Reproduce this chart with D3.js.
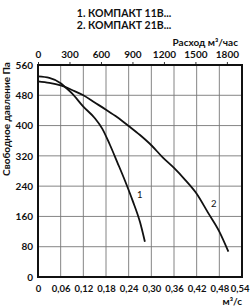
<!DOCTYPE html>
<html lang="ru">
<head>
<meta charset="utf-8">
<title>КОМПАКТ</title>
<script src="https://d3js.org/d3.v7.min.js"></script>
<style>
body { margin: 0; background: #fff; }
text { font-family: Lato, "DejaVu Sans", sans-serif; fill: #111; }
</style>
</head>
<body>
<div id="chart"></div>
<script>
// titles
var titles = ["1. КОМПАКТ 11В...", "2. КОМПАКТ 21В..."];

// ticks
var xTicks = [0, 0.06, 0.12, 0.18, 0.24, 0.30, 0.36, 0.42, 0.48, 0.54];
var topTicks = [0, 300, 600, 900, 1200, 1500, 1800];
var yTicks = [0, 80, 160, 240, 320, 400, 480, 560];

// curve 1 : КОМПАКТ 11В (flow m3/s, pressure Pa)
var flow1 = [0, 0.03, 0.06, 0.0715, 0.09, 0.12, 0.15, 0.17, 0.19, 0.21, 0.23, 0.25, 0.27, 0.283];
var pres1 = [530, 526, 512, 502, 485, 450, 420, 392, 350, 303, 255, 203, 145, 93];

// curve 2 : КОМПАКТ 21В
var flow2 = [0, 0.03, 0.06, 0.0715, 0.09, 0.12, 0.15, 0.18, 0.21, 0.24, 0.27, 0.30, 0.33, 0.36, 0.39, 0.42, 0.45, 0.48, 0.504];
var pres2 = [517, 513, 506, 502, 494, 480, 461, 442, 422, 399, 375, 348, 316, 288, 256, 220, 170, 120, 67];

var W = 250, H = 307;
var svg = d3.select("#chart").append("svg")
  .attr("width", W)
  .attr("height", H);

var x = d3.scaleLinear().domain([0, 0.54]).range([38, 242]);
var xTop = d3.scaleLinear().domain([0, 0.54 * 3600]).range([38, 242]);
var y = d3.scaleLinear().domain([0, 560]).range([277, 65]);

// titles
svg.selectAll(".title")
  .data(titles)
  .enter().append("text")
    .attr("x", 124)
    .attr("y", function(d, i) { return 17 + i * 11.5; })
    .attr("text-anchor", "middle")
    .style("font-size", "10.5px")
    .style("font-weight", "bold")
    .text(function(d) { return d; });

// grid
svg.append("g")
  .selectAll("line")
  .data(xTicks.slice(1, -1))
  .enter().append("line")
    .attr("x1", function(d) { return x(d); })
    .attr("x2", function(d) { return x(d); })
    .attr("y1", y(0))
    .attr("y2", y(560))
    .attr("stroke", "#777")
    .attr("stroke-width", 0.9);

svg.append("g")
  .selectAll("line")
  .data(yTicks.slice(1, -1))
  .enter().append("line")
    .attr("x1", x(0))
    .attr("x2", x(0.54))
    .attr("y1", function(d) { return y(d); })
    .attr("y2", function(d) { return y(d); })
    .attr("stroke", "#777")
    .attr("stroke-width", 0.9);

// bottom axis
var xAxis = svg.append("g")
  .attr("transform", "translate(0," + y(0) + ")")
  .call(d3.axisBottom(x).tickValues(xTicks).tickSize(0).tickPadding(8)
    .tickFormat(function(d) { return d === 0 ? "0" : d3.format(".2f")(d).replace(".", ","); }));
xAxis.select(".domain").remove();
xAxis.selectAll("text").style("font-size", "9.5px").style("font-weight", "bold");
xAxis.selectAll("text").filter(function(d) { return d === 0.54; })
  .attr("text-anchor", "end")
  .attr("x", 249 - x(0.54));

// top axis
var topAxis = svg.append("g")
  .attr("transform", "translate(0," + y(560) + ")")
  .call(d3.axisTop(xTop).tickValues(topTicks).tickSize(3).tickPadding(4).tickFormat(d3.format("d")));
topAxis.select(".domain").remove();
topAxis.selectAll("line").attr("stroke", "#333");
topAxis.selectAll("text").style("font-size", "10px").style("font-weight", "bold");

// left axis
var yAxis = svg.append("g")
  .attr("transform", "translate(" + x(0) + ",0)")
  .call(d3.axisLeft(y).tickValues(yTicks).tickSize(0).tickPadding(5));
yAxis.select(".domain").remove();
yAxis.selectAll("text").style("font-size", "10px").style("font-weight", "bold");

// frame
svg.append("rect")
  .attr("x", x(0))
  .attr("y", y(560))
  .attr("width", x(0.54) - x(0))
  .attr("height", y(0) - y(560))
  .attr("fill", "none")
  .attr("stroke", "#111")
  .attr("stroke-width", 2);

// axis titles
svg.append("text")
  .attr("x", 238)
  .attr("y", 45.5)
  .attr("text-anchor", "end")
  .style("font-size", "10px")
  .style("font-weight", "bold")
  .text("Расход м³/час");

svg.append("text")
  .attr("x", 242)
  .attr("y", 305)
  .attr("text-anchor", "end")
  .style("font-size", "10px")
  .style("font-weight", "bold")
  .text("м³/с");

svg.append("text")
  .attr("transform", "translate(9.5,119) rotate(-90)")
  .attr("text-anchor", "middle")
  .style("font-size", "10px")
  .style("font-weight", "bold")
  .text("Свободное давление Па");

// curves
var line = d3.line()
  .x(function(d) { return x(d[0]); })
  .y(function(d) { return y(d[1]); })
  .curve(d3.curveMonotoneX);

var curves = [d3.zip(flow1, pres1), d3.zip(flow2, pres2)];
svg.selectAll(".curve")
  .data(curves)
  .enter().append("path")
    .attr("class", "curve")
    .attr("d", line)
    .attr("fill", "none")
    .attr("stroke", "#111")
    .attr("stroke-width", 1.8);

// curve labels
svg.append("text")
  .attr("x", x(0.262)).attr("y", y(210))
  .style("font-size", "9.5px")
  .text("1");
svg.append("text")
  .attr("x", x(0.458)).attr("y", y(186))
  .style("font-size", "9.5px")
  .text("2");
</script>
</body>
</html>
